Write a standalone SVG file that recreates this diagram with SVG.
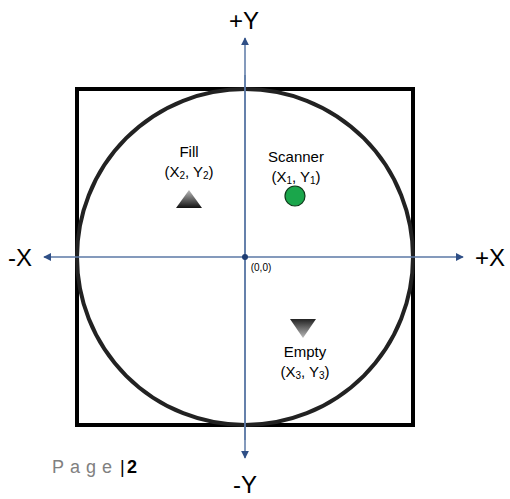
<svg xmlns="http://www.w3.org/2000/svg" width="510" height="499" viewBox="0 0 510 499">
<style>
.lbl{font-family:"Liberation Sans",Arial,sans-serif;fill:#000;text-anchor:middle}
.ax{font-size:24px}
.sm{font-size:15px}
.axis{stroke:#5b78a6;stroke-width:1.5;fill:none}
</style>
<defs>
<marker id="arr" viewBox="0 0 10 10" refX="9" refY="5" markerWidth="8" markerHeight="8" markerUnits="userSpaceOnUse" orient="auto">
<path d="M0,0 L10,5 L0,10 z" fill="#2f4f86"/>
</marker>
<linearGradient id="gUp" x1="0" y1="0" x2="0" y2="1">
<stop offset="0" stop-color="#bbbbbb"/><stop offset="1" stop-color="#111111"/>
</linearGradient>
<linearGradient id="gDown" x1="0" y1="0" x2="0" y2="1">
<stop offset="0" stop-color="#222222"/><stop offset="1" stop-color="#bbbbbb"/>
</linearGradient>
</defs>
<rect width="510" height="499" fill="#fff"/>
<g id="frame">
<rect x="77" y="89" width="336" height="336" fill="none" stroke="#000" stroke-width="4"/>
<circle cx="245" cy="257" r="168" fill="none" stroke="#222" stroke-width="4"/>
</g>
<g id="connectors">
<line class="axis" x1="245" y1="440" x2="245" y2="38" marker-end="url(#arr)"/>
<line class="axis" x1="245" y1="75" x2="245" y2="458" marker-end="url(#arr)"/>
<line class="axis" x1="245" y1="257" x2="44" y2="257" marker-end="url(#arr)"/>
<line class="axis" x1="245" y1="257" x2="463" y2="257" marker-end="url(#arr)"/>
</g>
<g id="origin">
<circle cx="245" cy="257" r="3" fill="#1f3d73"/>
<text class="lbl" x="261" y="271" font-size="10">(0,0)</text>
</g>
<g id="axis-labels">
<text class="lbl ax" x="244" y="29">+Y</text>
<text class="lbl ax" x="245" y="493">-Y</text>
<text class="lbl ax" x="20" y="266">-X</text>
<text class="lbl ax" x="490" y="266">+X</text>
</g>
<g id="fill">
<text class="lbl sm" x="189" y="157">Fill</text>
<text class="lbl sm" x="189" y="177">(X<tspan font-size="10" dy="2">2</tspan><tspan dy="-2">, Y</tspan><tspan font-size="10" dy="2">2</tspan><tspan dy="-2">)</tspan></text>
<polygon points="189,190 176,208 202,208" fill="url(#gUp)"/>
</g>
<g id="scanner">
<text class="lbl sm" x="296" y="162">Scanner</text>
<text class="lbl sm" x="296" y="182">(X<tspan font-size="10" dy="2">1</tspan><tspan dy="-2">, Y</tspan><tspan font-size="10" dy="2">1</tspan><tspan dy="-2">)</tspan></text>
<circle cx="295" cy="196" r="10" fill="#1aa64b" stroke="#0d3a1a" stroke-width="1.2"/>
</g>
<g id="empty">
<polygon points="290,319 316,319 303,338" fill="url(#gDown)"/>
<text class="lbl sm" x="305" y="357">Empty</text>
<text class="lbl sm" x="305" y="377">(X<tspan font-size="10" dy="2">3</tspan><tspan dy="-2">, Y</tspan><tspan font-size="10" dy="2">3</tspan><tspan dy="-2">)</tspan></text>
</g>
<g id="page">
<text x="52" y="473" font-family="Liberation Sans,Arial,sans-serif" font-size="18" fill="#808080" letter-spacing="6">Page</text>
<text x="120" y="473" font-family="Liberation Sans,Arial,sans-serif" font-size="18" fill="#000">|</text>
<text x="127" y="473" font-family="Liberation Sans,Arial,sans-serif" font-size="18" font-weight="bold" fill="#000">2</text>
</g>
</svg>
